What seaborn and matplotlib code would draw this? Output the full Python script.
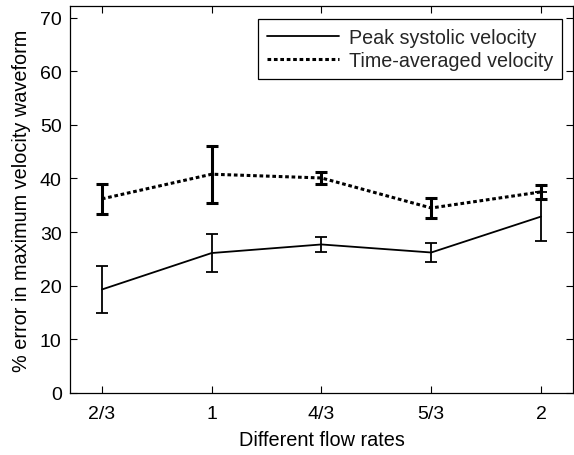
import matplotlib
matplotlib.use("Agg")
import matplotlib.pyplot as plt
import seaborn as sns
import pandas as pd
import numpy as np

categories = ["2/3", "1", "4/3", "5/3", "2"]
peak_mean = [19.3, 26.1, 27.7, 26.2, 32.9]
peak_err = [4.35, 3.6, 1.4, 1.75, 4.6]
avg_mean = [36.2, 40.8, 40.1, 34.5, 37.5]
avg_err = [2.8, 5.3, 1.15, 1.8, 1.3]
y_ticks = [0, 10, 20, 30, 40, 50, 60, 70]

sns.set_theme(style="white")
plt.rcParams['font.family'] = ['Liberation Sans', 'DejaVu Sans']

fig = plt.figure(figsize=(5.74, 4.56), dpi=100)
ax = fig.add_axes([0.122, 0.136, 0.876, 0.849])

x = np.arange(len(categories))
df = pd.DataFrame({
    "x": np.concatenate([x, x]),
    "y": peak_mean + avg_mean,
    "series": ["Peak systolic velocity"] * 5 + ["Time-averaged velocity"] * 5,
})

sns.lineplot(data=df[df.series == "Peak systolic velocity"], x="x", y="y", ax=ax,
             color="black", linewidth=1.3, linestyle="-", label="Peak systolic velocity")
sns.lineplot(data=df[df.series == "Time-averaged velocity"], x="x", y="y", ax=ax,
             color="black", linewidth=2.2, linestyle=(0, (1.2, 0.9)), label="Time-averaged velocity")

ax.errorbar(x, peak_mean, yerr=peak_err, fmt="none", ecolor="black",
            elinewidth=1.3, capsize=4, capthick=1.3)
ax.errorbar(x, avg_mean, yerr=avg_err, fmt="none", ecolor="black",
            elinewidth=2.2, capsize=4, capthick=2.2)

ax.set_xlim(-0.29, 4.29)
ax.set_ylim(0, 72.2)
ax.set_xticks(x)
ax.set_xticklabels(categories)
ax.set_yticks(y_ticks)
ax.tick_params(axis="both", direction="in", length=5, width=0.8, colors="black",
               labelsize=14, top=True, right=True, bottom=True, left=True)
ax.tick_params(axis="x", pad=8.5)
ax.tick_params(axis="y", pad=6)
for s in ax.spines.values():
    s.set_color("black")
    s.set_linewidth(0.9)
    s.set_visible(True)

ax.set_xlabel("Different flow rates", fontsize=14.3, color="black", labelpad=6)
ax.set_ylabel("% error in maximum velocity waveform", fontsize=14.3, color="black", labelpad=6)

leg = ax.legend(loc="upper right", bbox_to_anchor=(0.978, 0.966), borderaxespad=0,
                fontsize=14.2, frameon=True, fancybox=False,
                edgecolor="black", framealpha=1, borderpad=0.45, handlelength=3.65,
                handletextpad=0.5, labelspacing=0.2)
leg.get_frame().set_linewidth(0.9)

fig.savefig("out.png", dpi=100)
